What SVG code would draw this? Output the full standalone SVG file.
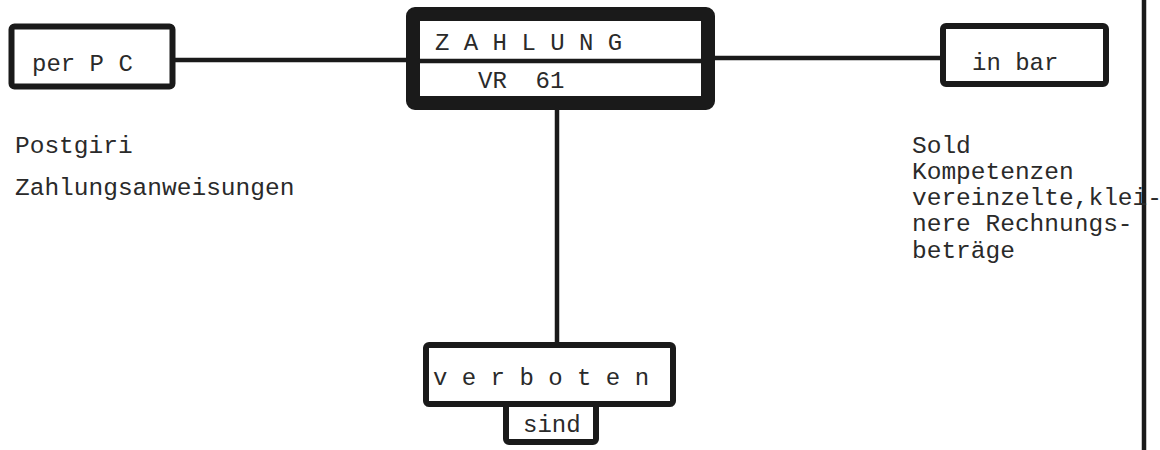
<svg xmlns="http://www.w3.org/2000/svg" width="1160" height="450" viewBox="0 0 1160 450">
<style>
.box{fill:#fff;stroke:#1a1a1a;stroke-width:6;stroke-linejoin:round}
.heavy{fill:#fff;stroke:#1a1a1a;stroke-width:14;stroke-linejoin:round}
.line{stroke:#1a1a1a;stroke-width:4.5;fill:none}
text{font-family:"Liberation Mono","DejaVu Sans Mono",monospace;font-size:24px;fill:#2a2a2a;white-space:pre}
.body{font-size:24.5px}
</style>
<rect width="1160" height="450" fill="#fff"/>
<g id="connectors">
<line class="line" x1="175" y1="60" x2="408" y2="60"/>
<line class="line" x1="714" y1="58" x2="942" y2="58"/>
<line class="line" x1="557" y1="108" x2="557" y2="344"/>
<line class="line" x1="1144" y1="0" x2="1144" y2="450" stroke-width="5"/>
</g>
<g id="node-perpc">
<rect class="box" x="11.5" y="26.5" width="161" height="60" rx="3"/>
<text x="32" y="71">per P C</text>
</g>
<g id="node-zahlung">
<rect class="heavy" x="413" y="14" width="295" height="89" rx="2"/>
<line class="line" x1="418" y1="61" x2="704" y2="61"/>
<text x="435" y="50">Z A H L U N G</text>
<text x="478" y="88" xml:space="preserve">VR  61</text>
</g>
<g id="node-inbar">
<rect class="box" x="943" y="26" width="163" height="58" rx="3"/>
<text x="972" y="70">in bar</text>
</g>
<g id="node-verboten">
<rect class="box" x="426" y="345" width="247" height="59" rx="3"/>
<text x="433" y="385">v e r b o t e n</text>
</g>
<g id="node-sind">
<rect class="box" x="506" y="404" width="90" height="38" rx="3"/>
<rect x="509" y="408" width="84" height="10" fill="#fff"/>
<line class="line" x1="426" y1="404" x2="673" y2="404" stroke-width="6"/>
<text x="523" y="432">sind</text>
</g>
<g id="notes-left">
<text class="body" x="15" y="153">Postgiri</text>
<text class="body" x="15" y="195">Zahlungsanweisungen</text>
</g>
<g id="notes-right">
<text class="body" x="912" y="153">Sold</text>
<text class="body" x="912" y="179">Kompetenzen</text>
<text class="body" x="912" y="205">vereinzelte,klei-</text>
<text class="body" x="912" y="231">nere Rechnungs-</text>
<text class="body" x="912" y="258">beträge</text>
</g>
</svg>
